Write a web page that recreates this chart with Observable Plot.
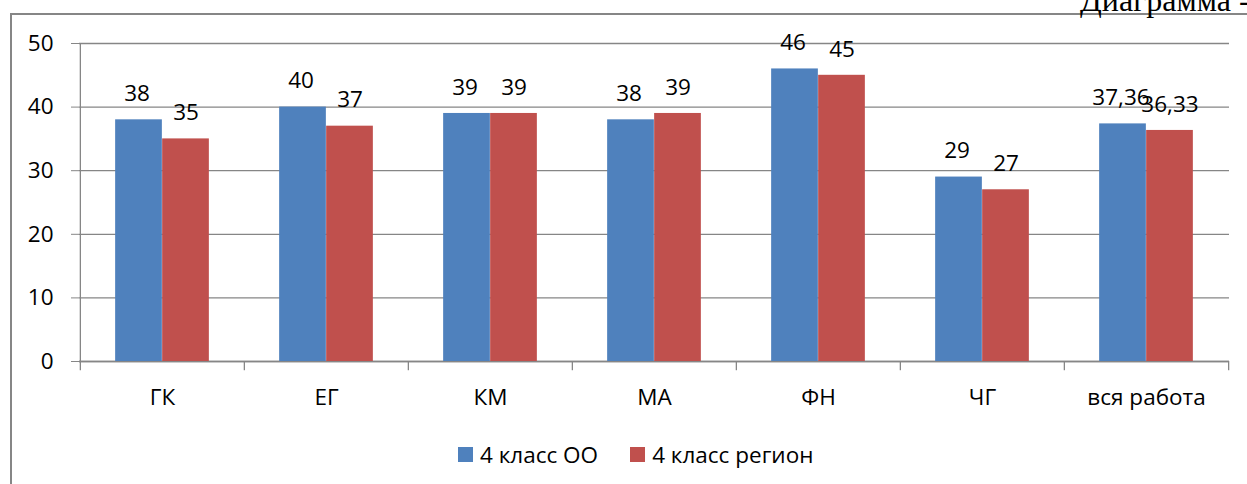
<!DOCTYPE html>
<html>
<head>
<meta charset="utf-8">
<script src="https://cdn.jsdelivr.net/npm/d3@7"></script>
<script src="https://cdn.jsdelivr.net/npm/@observablehq/plot@0.6"></script>
<style>
  html, body { margin: 0; padding: 0; background: #fff; }
  #wrap { position: relative; width: 1247px; height: 484px; overflow: hidden; background: #fff; font-family: "Open Sans", sans-serif; }
  #frame { position: absolute; left: 10px; top: 13px; width: 1400px; height: 600px; border: 2px solid #868686; box-sizing: border-box; }
  #title { position: absolute; left: 0; top: 0; }
  #chart { position: absolute; left: 0; top: 0; }
  #legend { position: absolute; left: 458px; top: 439px; display: flex; align-items: center; font-size: 22.5px; color: #000; white-space: nowrap; }
  .item { display: flex; align-items: center; margin-right: 32px; }
  .sw { width: 15px; height: 15px; margin-right: 7px; }
</style>
</head>
<body>
<div id="wrap">
  <div id="frame"></div>
  <svg id="title" width="1247" height="20"><text x="1080" y="11" font-family="Liberation Serif" font-size="32" fill="#000">Диаграмма -</text></svg>
  <div id="chart"></div>
  <div id="legend"></div>
</div>
<script>
const categories = ["ГК", "ЕГ", "КМ", "МА", "ФН", "ЧГ", "вся работа"];
const seriesNames = ["4 класс ОО", "4 класс регион"];
const valuesOO = [38, 40, 39, 38, 46, 29, 37.36];
const valuesRegion = [35, 37, 39, 39, 45, 27, 36.33];
const yTicks = [0, 10, 20, 30, 40, 50];
const colors = ["#4F81BD", "#C0504D"];

const data = [];
categories.forEach((c, i) => {
  data.push({category: c, series: seriesNames[0], value: valuesOO[i]});
  data.push({category: c, series: seriesNames[1], value: valuesRegion[i]});
});

const width = 1247, marginLeft = 79, marginRight = 18;
const step = (width - marginLeft - marginRight) / categories.length;
const barW = 47;
const outer = (step - 2 * barW) / 2;
const fmt = v => String(v).replace(".", ",");
const gray = "#868686";

const s0 = data.filter(d => d.series === seriesNames[0]);
const s1 = data.filter(d => d.series === seriesNames[1]);

const chart = Plot.plot({
  width, height: 430,
  marginLeft, marginRight, marginTop: 43, marginBottom: 69,
  style: {fontFamily: "Open Sans", fontSize: "22.5px", color: "#000", background: "transparent", overflow: "visible"},
  x: {type: "band", domain: categories, padding: 0, label: null},
  y: {domain: [0, 50], label: null},
  marks: [
    Plot.gridY(yTicks, {stroke: gray, strokeOpacity: 1, strokeWidth: 1.3}),
    Plot.ruleY([0], {stroke: gray, strokeWidth: 1.3}),
    Plot.ruleX([categories[0]], {dx: -step / 2, y1: -1.45, y2: 50, stroke: gray, strokeWidth: 1.3}),
    Plot.ruleX(categories.slice(1), {dx: -step / 2, y1: -1.45, y2: 0, stroke: gray, strokeWidth: 1.3}),
    Plot.ruleX([categories[categories.length - 1]], {dx: step / 2, y1: -1.45, y2: 0, stroke: gray, strokeWidth: 1.3}),
    Plot.barY(s0, {x: "category", y: "value", fill: colors[0], insetLeft: outer, insetRight: outer + barW}),
    Plot.barY(s1, {x: "category", y: "value", fill: colors[1], insetLeft: outer + barW, insetRight: outer}),
    Plot.text(s0, {x: "category", y: "value", text: d => fmt(d.value), dx: -barW / 2 - 2, dy: -26, lineAnchor: "middle", fill: "#000"}),
    Plot.text(s1, {x: "category", y: "value", text: d => fmt(d.value), dx: barW / 2, dy: -26, lineAnchor: "middle", fill: "#000"}),
    Plot.axisY({ticks: yTicks, tickSize: 8, tickPadding: 18, stroke: gray, label: null}),
    Plot.axisX({tickSize: 0, tickPadding: 28, label: null})
  ]
});
document.getElementById("chart").appendChild(chart);

const legend = document.getElementById("legend");
seriesNames.forEach((name, i) => {
  const item = document.createElement("div");
  item.className = "item";
  const sw = document.createElement("div");
  sw.className = "sw";
  sw.style.background = colors[i];
  const t = document.createElement("span");
  t.textContent = name;
  item.appendChild(sw);
  item.appendChild(t);
  legend.appendChild(item);
});
</script>
</body>
</html>
